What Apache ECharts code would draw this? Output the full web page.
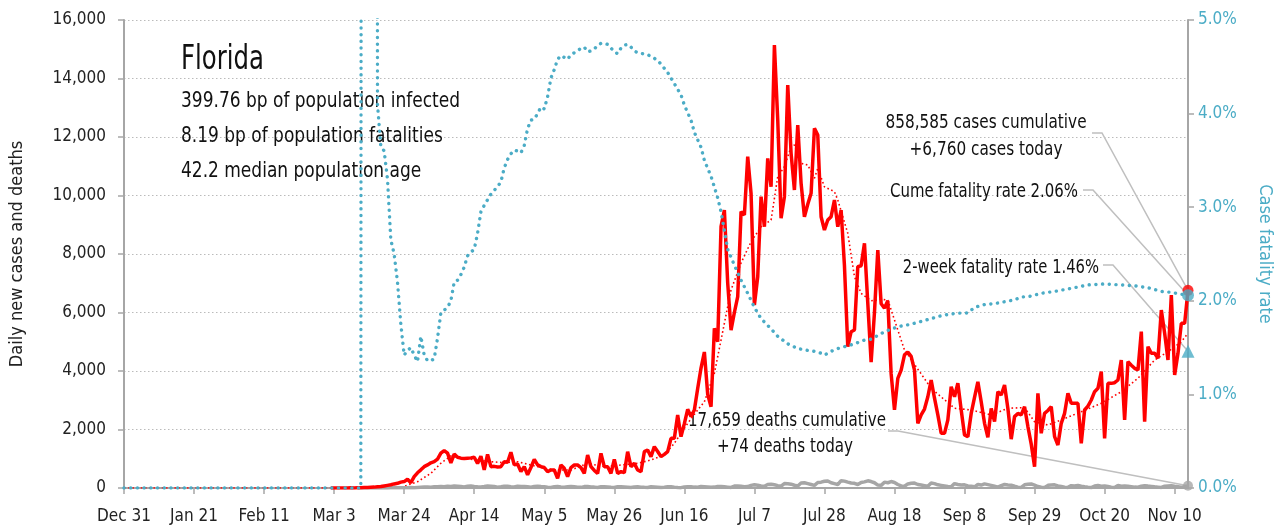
<!DOCTYPE html>
<html>
<head>
<meta charset="utf-8">
<title>Florida</title>
<script src="https://cdn.jsdelivr.net/npm/echarts@6/dist/echarts.min.js"></script>
</head>
<body style="margin:0;padding:0">
<div id="main" style="width:1282px;height:531px;"></div>
<script type="text/javascript">
var FONT = "'DejaVu Sans Condensed', 'Liberation Sans Narrow', sans-serif";
var RED = '#ff0000', BLUE = '#4bacc6', GRAY = '#a6a6a6', LEAD = '#bfbfbf';

// days from Dec 31 to Nov 14, label every 21st
var startDate = new Date(2019, 11, 31);
var dayCount = 320;
var months = ['Jan','Feb','Mar','Apr','May','Jun','Jul','Aug','Sep','Oct','Nov','Dec'];
var days = [];
for (var i = 0; i < dayCount; i++) {
    var dt = new Date(startDate.getTime());
    dt.setDate(dt.getDate() + i);
    days.push(months[dt.getMonth()] + ' ' + dt.getDate());
}

// daily new cases, starting at day index 62 (Mar 2)
var casesStart = 62;
var cases = [
    0,0,1,1,2,3,5,4,8,10,
    15,20,25,30,40,50,70,90,110,140,
    160,200,220,300,180,390,520,620,730,790,
    860,900,990,1190,1280,1190,860,1160,1050,1020,
    1010,1020,1030,1050,840,1090,620,1150,730,740,
    720,730,900,880,1220,790,820,560,730,450,
    700,980,790,730,700,560,615,615,330,786,
    672,387,700,786,786,700,501,1128,729,600,
    501,1185,729,729,501,980,501,560,524,1242,
    729,843,615,558,1242,1299,1071,1413,1250,1071,
    1150,1242,1698,1698,2495,1755,2200,2690,2440,2670,
    3400,4100,4650,3200,2780,5460,5000,8933,9504,7000,
    5400,6000,6540,9447,9333,11327,10075,6256,7224,9960,
    8933,11270,10300,15145,12580,9220,9960,13778,11442,10188,
    12410,10417,9275,9700,10075,12300,12068,9275,8820,9162,
    9275,9846,8933,9504,7600,4830,5344,5402,7566,7600,
    8366,6314,4300,6000,8137,6300,6150,6400,3900,2670,
    3750,4030,4550,4650,4500,4030,2210,2500,2700,3120,
    3690,3070,2500,1870,1870,2330,3460,3120,3580,2670,
    1810,1750,2550,3100,3630,2950,2210,1730,2720,2270,
    3290,3180,3520,2720,1670,2440,2550,2500,2780,2100,
    1500,730,3237,1870,2553,2650,2780,1755,1470,2211,
    2553,3237,2895,2895,2895,1527,2667,2800,3009,3293,
    3407,3977,1698,3578,3578,3600,3692,4376,2325,4320,
    4200,4091,4034,5345,2268,4832,4604,4604,4433,6085,
    5288,4376,6598,3863,4604,5630,5630,6760
];

// smoothed cases (dotted red), [day index, value]
var casesAvg = [
    [0,0],[80,0],[83,20],[88,215],[92,500],[95,845],[98,1094],[101,1015],[106,957],
    [110,900],[114,865],[118,900],[122,786],[126,672],[130,615],[134,615],[139,843],
    [144,728],[149,786],[154,843],[158,957],[162,1128],[165,1528],[167,1870],[169,2210],
    [172,2667],[174,2950],[177,3920],[179,5060],[181,6200],[182,6770],[185,7692],
    [188,8420],[191,8933],[194,9162],[196,10643],[198,10985],[200,11668],[201,11726],
    [203,11100],[205,11043],[207,10588],[208,10930],[210,10300],[213,10130],[214,9846],
    [217,8708],[219,7224],[221,6656],[224,6400],[227,6450],[229,6427],[234,4718],
    [242,3408],[249,2725],[254,2667],[260,2496],[265,2725],[270,2750],[273,2267],
    [277,2154],[281,2325],[287,2610],[293,2895],[299,3292],[304,3750],[309,4376],
    [313,4660],[317,5000],[319,5289]
];

// daily new deaths, starting at day index 70 (Mar 10)
var deathsStart = 70;
var deaths = [
    0,0,1,0,1,2,2,3,5,3,7,5,8,10,5,
    12,15,10,20,25,30,35,28,40,45,55,40,60,50,65,58,
    48,35,60,72,55,45,38,50,66,58,48,30,42,58,60,46,35,62,48,52,40,28,50,62,48,45,30,20,42,50,
    38,30,45,52,40,25,22,48,50,35,30,18,40,45,38,25,20,46,42,36,28,15,38,44,30,22,18,40,35,28,
    20,25,40,45,30,18,12,38,45,40,30,24,50,45,38,25,30,55,48,40,30,20,65,70,58,42,48,90,110,95,
    70,58,120,130,110,80,60,150,145,130,95,70,170,180,150,120,90,190,200,230,240,180,150,120,250,235,200,170,160,120,
    190,210,245,220,180,100,90,200,180,220,190,120,70,60,140,160,170,120,100,80,60,170,150,110,90,70,50,40,150,120,
    100,110,70,60,40,120,100,140,115,90,60,30,80,120,100,95,60,30,20,110,130,140,100,50,25,20,90,100,110,70,
    55,30,20,80,70,90,60,40,25,15,70,85,60,70,50,30,20,90,60,70,60,45,30,25,60,80,65,55,40,30,
    20,60,70,80,60,45,30,40,74
];

// case fatality rate (%), [day index, value]
var cfr = [
    [0,0],[71,0],[72,60],[75,60],[76,4.1],[77,3.65],[78,3.6],[79,3.3],[80,2.65],[81,2.5],
    [82,2.2],[83,1.75],[84,1.42],[85,1.47],[86,1.5],[87,1.42],[88,1.35],[89,1.62],[90,1.42],
    [91,1.36],[92,1.36],[93,1.38],[94,1.6],[95,1.87],[96,1.9],[97,1.93],[98,2.0],[99,2.2],
    [100,2.22],[101,2.28],[102,2.36],[103,2.48],[104,2.52],[105,2.55],[106,2.72],[107,2.95],
    [108,3.02],[109,3.08],[110,3.14],[111,3.18],[112,3.22],[113,3.27],[114,3.42],[115,3.51],
    [116,3.57],[117,3.61],[118,3.6],[119,3.58],[120,3.66],[121,3.84],[122,3.93],[123,3.94],
    [124,4.0],[125,4.07],[126,4.05],[127,4.18],[128,4.38],[129,4.47],[130,4.58],[131,4.62],
    [132,4.6],[133,4.58],[134,4.63],[135,4.65],[136,4.67],[137,4.7],[138,4.71],[139,4.66],
    [140,4.67],[141,4.69],[142,4.73],[143,4.75],[144,4.75],[145,4.74],[146,4.7],[147,4.66],
    [148,4.64],[149,4.7],[150,4.73],[151,4.74],[152,4.71],[153,4.67],[154,4.65],[157,4.63],
    [160,4.57],[163,4.44],[165,4.32],[167,4.2],[168,4.09],[170,3.93],[171,3.8],[173,3.64],
    [174,3.5],[176,3.33],[178,3.1],[179,2.95],[181,2.55],[183,2.38],[185,2.22],[187,2.08],
    [189,1.93],[191,1.81],[194,1.7],[196,1.62],[199,1.54],[202,1.49],[205,1.47],[207,1.46],
    [209,1.44],[210,1.42],[212,1.46],[214,1.49],[216,1.51],[219,1.54],[222,1.58],[224,1.59],
    [227,1.65],[230,1.7],[233,1.73],[236,1.75],[239,1.78],[242,1.81],[245,1.84],[248,1.86],
    [251,1.87],[253,1.87],[255,1.93],[258,1.96],[261,1.97],[264,1.99],[267,2.01],[269,2.04],
    [272,2.05],[275,2.08],[279,2.1],[282,2.12],[285,2.14],[289,2.17],[294,2.18],[299,2.17],
    [303,2.16],[307,2.14],[311,2.1],[314,2.09],[317,2.07],[319,2.06]
];

var lastIdx = dayCount - 1;
var casesToday = 6760, casesCum = 858585;
var deathsToday = 74, deathsCum = 17659;
var cumeRate = 2.06, twoWeekRate = 1.46;

function fmt(n) { return n.toLocaleString('en-US'); }

var myChart = echarts.init(document.getElementById('main'));

var option = {
    animation: false,
    backgroundColor: '#ffffff',
    textStyle: { fontFamily: FONT },
    grid: { left: 124, right: 94, top: 20, bottom: 43 },
    xAxis: {
        type: 'category',
        data: days,
        boundaryGap: false,
        axisLine: { lineStyle: { color: GRAY, width: 2 } },
        axisTick: { interval: 20, length: 6, lineStyle: { color: GRAY, width: 1.5 } },
        axisLabel: { interval: 20, color: '#222', fontSize: 17, fontFamily: FONT, margin: 20 },
        splitLine: { show: false }
    },
    yAxis: [{
        type: 'value',
        min: 0, max: 16000, interval: 2000,
        name: 'Daily new cases and deaths',
        nameLocation: 'middle',
        nameGap: 98,
        nameTextStyle: { color: '#222', fontSize: 18, fontFamily: FONT },
        axisLine: { show: true, lineStyle: { color: GRAY, width: 2 } },
        axisTick: { show: true, length: 6, lineStyle: { color: GRAY, width: 1.5 } },
        axisLabel: { color: '#222', fontSize: 17, fontFamily: FONT, margin: 18 },
        splitLine: { show: true, lineStyle: { color: '#bbbbbb', type: [1.5, 2.5], width: 1.2 } }
    }, {
        type: 'value',
        position: 'right',
        min: 0, max: 5, interval: 1,
        name: 'Case fatality rate',
        nameLocation: 'middle',
        nameGap: 68,
        nameRotate: -90,
        nameTextStyle: { color: BLUE, fontSize: 18, fontFamily: FONT },
        axisLine: { show: true, lineStyle: { color: GRAY, width: 2 } },
        axisTick: { show: true, length: 6, lineStyle: { color: GRAY, width: 1.5 } },
        axisLabel: {
            color: BLUE, fontSize: 17, fontFamily: FONT, margin: 10,
            formatter: function (v) { return v.toFixed(1) + '%'; }
        },
        splitLine: { show: false }
    }],
    series: [{
        name: 'cases',
        type: 'line',
        data: cases.map(function (v, i) { return [casesStart + i, v]; }),
        symbol: 'none',
        lineStyle: { color: RED, width: 3.5 },
        z: 4
    }, {
        name: 'cases avg',
        type: 'line',
        data: casesAvg,
        symbol: 'none',
        lineStyle: { color: RED, width: 1.6, type: [1.6, 2.6] },
        z: 3
    }, {
        name: 'deaths',
        type: 'line',
        data: deaths.map(function (v, i) { return [deathsStart + i, v]; }),
        symbol: 'none',
        lineStyle: { color: GRAY, width: 3.5 },
        z: 3
    }, {
        name: 'cfr',
        type: 'line',
        yAxisIndex: 1,
        data: cfr,
        symbol: 'none',
        clip: true,
        lineStyle: { color: BLUE, width: 3.4, type: [0.1, 6.6], cap: 'round' },
        z: 5
    }, {
        name: 'end red',
        type: 'scatter',
        data: [[lastIdx, casesToday]],
        symbol: 'circle', symbolSize: 11,
        itemStyle: { color: RED },
        z: 6
    }, {
        name: 'end gray',
        type: 'scatter',
        data: [[lastIdx, deathsToday]],
        symbol: 'circle', symbolSize: 10,
        itemStyle: { color: GRAY },
        z: 6
    }, {
        name: 'end cume',
        type: 'scatter',
        yAxisIndex: 1,
        data: [[lastIdx, cumeRate]],
        symbol: 'circle', symbolSize: 12,
        itemStyle: { color: BLUE },
        z: 7
    }, {
        name: 'end 2wk',
        type: 'scatter',
        yAxisIndex: 1,
        data: [[lastIdx, twoWeekRate]],
        symbol: 'triangle', symbolSize: 13,
        itemStyle: { color: BLUE },
        z: 7
    }]
};

myChart.setOption(option);

// annotations with leader lines to the end markers
var pRed = myChart.convertToPixel({ seriesIndex: 4 }, [lastIdx, casesToday]);
var pGray = myChart.convertToPixel({ seriesIndex: 5 }, [lastIdx, deathsToday]);
var pCume = myChart.convertToPixel({ seriesIndex: 6 }, [lastIdx, cumeRate]);
var pTwo = myChart.convertToPixel({ seriesIndex: 7 }, [lastIdx, twoWeekRate]);

// condensed look: squeeze the text horizontally
function txt(x, y, s, size, align, sx) {
    return {
        type: 'text', x: x, y: y, z: 0, scaleX: sx || 0.85,
        style: {
            text: s, fill: '#111', font: size + 'px ' + FONT,
            textAlign: align || 'left', textVerticalAlign: 'middle'
        }
    };
}
function lead(pts) {
    return {
        type: 'polyline', z: 1,
        shape: { points: pts },
        style: { stroke: LEAD, lineWidth: 1.5, fill: null }
    };
}

myChart.setOption({
    graphic: [
        txt(181, 60, 'Florida', 33, 'left', 0.82),
        txt(181, 101, '399.76 bp of population infected', 22, 'left', 0.86),
        txt(181, 136, '8.19 bp of population fatalities', 22, 'left', 0.86),
        txt(181, 171, '42.2 median population age', 22, 'left', 0.86),
        txt(986, 123, fmt(casesCum) + ' cases cumulative', 20, 'center', 0.85),
        txt(986, 150, '+' + fmt(casesToday) + ' cases today', 20, 'center', 0.85),
        txt(1078, 192, 'Cume fatality rate ' + cumeRate.toFixed(2) + '%', 20, 'right', 0.83),
        txt(1099, 268, '2-week fatality rate ' + twoWeekRate.toFixed(2) + '%', 20, 'right', 0.82),
        txt(787, 421, fmt(deathsCum) + ' deaths cumulative', 20, 'center', 0.84),
        txt(785, 447, '+' + deathsToday + ' deaths today', 20, 'center', 0.84),
        lead([[1092, 133], [1102, 133], pRed]),
        lead([[1083, 190], [1093, 190], pCume]),
        lead([[1103, 265], [1113, 265], pTwo]),
        lead([[888, 431], [898, 431], pGray])
    ]
});
</script>
</body>
</html>
